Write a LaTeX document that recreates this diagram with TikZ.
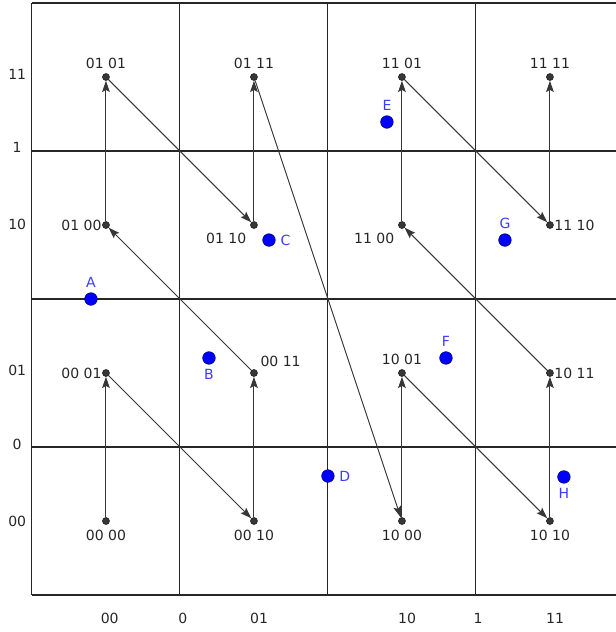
\documentclass[tikz,border=0pt]{standalone}
\usepackage{fontspec}
\setmainfont{DejaVu Sans}
\usetikzlibrary{arrows.meta}
\definecolor{ptblue}{RGB}{0,0,255}
\definecolor{lblblue}{RGB}{60,60,255}
\definecolor{dotgray}{RGB}{55,55,55}

\begin{document}
\begin{tikzpicture}[
  x=1.857cm,y=1.857cm,
  >={Stealth[length=8pt,width=5.5pt,inset=1.5pt]},
  every node/.style={font=\fontsize{10}{12}\selectfont,text=black!85},
  vtx/.style={circle,draw=black!90,fill=dotgray,inner sep=0pt,minimum size=5pt},
  bluept/.style={circle,draw=blue!45!black,fill=ptblue,inner sep=0pt,minimum size=9pt},
  gridline/.style={black!85,line width=0.75pt},
  link/.style={->,dotgray,line width=0.7pt},
  lbl/.style={text=lblblue},
  tight/.style={label distance=-3pt}
]
\useasboundingbox (-0.432,-0.5) rectangle (7.892,8.041);
% grid
\foreach \y in {0,2,...,8} \draw[gridline] (0,\y) -- (7.892,\y);
\foreach \x in {0,2,4,6} \draw[gridline] (\x,0) -- (\x,8);
% axis labels
\foreach \t/\y [count=\i] in {00/1.0,0/2.03,01/3.03,10/5.01,1/6.05,11/7.04}
  \node (ty\i) at (-0.2,\y) {\t};
\foreach \t/\x [count=\i] in {00/1.05,0/2.04,01/3.07,10/5.07,1/6.03,11/7.07}
  \node (tx\i) at (\x,-0.32) {\t};
% cells
\node[vtx,label={below:00 00}] (v0000) at (1,1) {};
\node[vtx,label={[tight]left:00 01}] (v0001) at (1,3) {};
\node[vtx,label={below:00 10}] (v0010) at (3,1) {};
\node[vtx,label={[label distance=-1pt]above right:00 11}] (v0011) at (3,3) {};
\node[vtx,label={[tight]left:01 00}] (v0100) at (1,5) {};
\node[vtx,label={above:01 01}] (v0101) at (1,7) {};
\node[vtx,label={below left:01 10}] (v0110) at (3,5) {};
\node[vtx,label={above:01 11}] (v0111) at (3,7) {};
\node[vtx,label={below:10 00}] (v1000) at (5,1) {};
\node[vtx,label={above:10 01}] (v1001) at (5,3) {};
\node[vtx,label={below:10 10}] (v1010) at (7,1) {};
\node[vtx,label={[tight]right:10 11}] (v1011) at (7,3) {};
\node[vtx,label={below left:11 00}] (v1100) at (5,5) {};
\node[vtx,label={above:11 01}] (v1101) at (5,7) {};
\node[vtx,label={[tight]right:11 10}] (v1110) at (7,5) {};
\node[vtx,label={above:11 11}] (v1111) at (7,7) {};
% z-order
\foreach \a/\b in {0000/0001,0001/0010,0010/0011,0011/0100,0100/0101,0101/0110,
  0110/0111,0111/1000,1000/1001,1001/1010,1010/1011,1011/1100,1100/1101,
  1101/1110,1110/1111}
  \draw[link] (v\a) -- (v\b);
% points
\node[bluept,label={[lbl]above:A}] (A) at (0.797,4.0) {};
\node[bluept,label={[lbl]below:B}] (B) at (2.392,3.203) {};
\node[bluept,label={[lbl]right:C}] (C) at (3.203,4.797) {};
\node[bluept,label={[lbl]right:D}] (D) at (4.0,1.608) {};
\node[bluept,label={[lbl]above:E}] (E) at (4.797,6.392) {};
\node[bluept,label={[lbl]above:F}] (F) at (5.595,3.203) {};
\node[bluept,label={[lbl]above:G}] (G) at (6.392,4.797) {};
\node[bluept,label={[lbl]below:H}] (H) at (7.189,1.595) {};
\end{tikzpicture}
\end{document}
